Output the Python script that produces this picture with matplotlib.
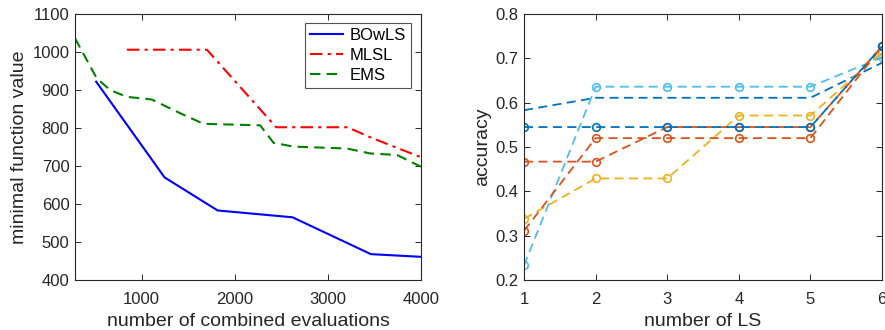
import matplotlib.pyplot as plt
import numpy as np

plt.rcParams['font.family'] = ['Liberation Sans', 'DejaVu Sans']
plt.rcParams['xtick.direction'] = 'in'
plt.rcParams['ytick.direction'] = 'in'
plt.rcParams['xtick.top'] = True
plt.rcParams['ytick.right'] = True

dark = '#262626'

# left panel data
bowls_x = [510, 1245, 1815, 2620, 3462, 4000]
bowls_y = [922, 670, 583, 565, 468, 461]
mlsl_x = [840, 1700, 2444, 3211, 3460, 4000]
mlsl_y = [1006, 1006, 802, 802, 775, 723]
ems_x = [283, 516, 660, 839, 1107, 1412, 1663, 2272, 2416, 2631, 3204, 3455, 3742, 4000]
ems_y = [1036, 931, 900, 882, 875, 839, 811, 807, 761, 751, 746, 733, 729, 698]

# right panel data
ls = [1, 2, 3, 4, 5, 6]
acc_blue = [0.545, 0.545, 0.545, 0.545, 0.545, 0.727]
acc_blue2 = [0.583, 0.611, 0.611, 0.611, 0.611, 0.690]
acc_orange = [0.467, 0.467, 0.545, 0.545, 0.545, 0.727]
acc_orange2 = [0.311, 0.520, 0.520, 0.520, 0.520, 0.727]
acc_yellow = [0.338, 0.429, 0.429, 0.571, 0.571, 0.714]
acc_cyan = [0.233, 0.636, 0.636, 0.636, 0.636, 0.702]

fig = plt.figure(figsize=(8.85, 3.3), dpi=100)
ax1 = fig.add_axes([75/885, 1-280/330, 346/885, 266/330])
ax2 = fig.add_axes([524/885, 1-280/330, 358/885, 266/330])

ax1.plot(bowls_x, bowls_y, color='#0000ff', lw=1.5, label='BOwLS')
ax1.plot(mlsl_x, mlsl_y, color='#ff0000', lw=1.5, ls=(0, (6, 2.5, 1.5, 2.5)), label='MLSL')
ax1.plot(ems_x, ems_y, color='#008000', lw=1.5, ls=(0, (5, 3)), label='EMS')
ax1.set_xlim(283, 4000)
ax1.set_ylim(400, 1100)
ax1.set_xticks([1000, 2000, 3000, 4000])
ax1.set_yticks(np.arange(400, 1101, 100))
ax1.set_xlabel('number of combined evaluations', fontsize=14, color=dark, labelpad=4)
ax1.set_ylabel('minimal function value', fontsize=14, color=dark, labelpad=3)
leg = ax1.legend(loc='upper right', bbox_to_anchor=(0.971, 0.966), fontsize=12,
                 frameon=True, fancybox=False, edgecolor=dark, handlelength=2.0,
                 borderpad=0.3, labelspacing=0.3, handletextpad=0.4,
                 borderaxespad=0)
leg.get_frame().set_linewidth(0.8)

mk = dict(marker='o', mfc='none', ms=5.5, mew=1.2, lw=1.3, ls=(0, (5, 3)))
ax2.plot(ls, acc_blue2, color='#0072BD', lw=1.3, ls=(0, (5, 3)))
ax2.plot(ls, acc_cyan, color='#4DBEEE', **mk)
ax2.plot(ls, acc_yellow, color='#EDB120', **mk)
ax2.plot(ls, acc_orange2, color='#D95319', **mk)
ax2.plot(ls, acc_orange, color='#D95319', **mk)
ax2.plot(ls, acc_blue, color='#0072BD', **mk)
ax2.set_xlim(1, 6)
ax2.set_ylim(0.2, 0.8)
ax2.set_xticks(ls)
ax2.set_yticks(np.arange(0.2, 0.81, 0.1))
ax2.set_xlabel('number of LS', fontsize=14, color=dark, labelpad=4)
ax2.set_ylabel('accuracy', fontsize=14, color=dark, labelpad=3)

for ax in (ax1, ax2):
    ax.tick_params(labelsize=12, colors=dark, length=4, width=0.7)
    ax.tick_params(axis='x', pad=9)
    ax.tick_params(axis='y', pad=4)
    for s in ax.spines.values():
        s.set_color(dark)
        s.set_linewidth(0.8)

fig.savefig('out.png', dpi=100)
